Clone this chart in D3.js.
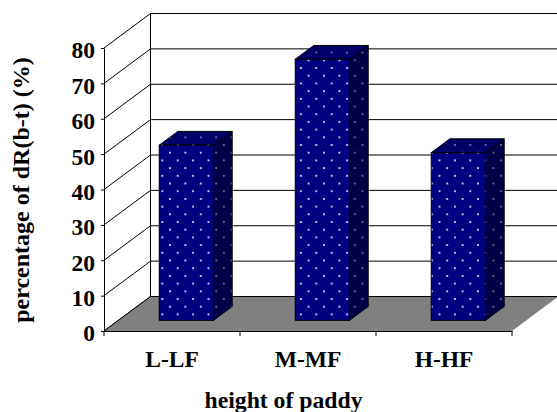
<!DOCTYPE html>
<html>
<head>
<meta charset="utf-8">
<script src="https://cdn.jsdelivr.net/npm/d3@7"></script>
<style>
html, body { margin: 0; padding: 0; background: #fff; }
text { font-family: "Liberation Serif", serif; font-weight: bold; fill: #000; }
</style>
</head>
<body>
<div id="chart"></div>
<script>
var width = 557,
	height = 412;

// Data
var categories = ["L-LF", "M-MF", "H-HF"];
var values = [49.5, 73.8, 47.4];
var yTicks = [0, 10, 20, 30, 40, 50, 60, 70, 80];

// 3D box of the plot
var depthX = 46.5,
	depthY = 34.5,
	barFront = 0.31,
	barBack = 0.71;

var svg = d3.select("#chart")
	.append("svg")
	.attr("width", width)
	.attr("height", height)
	.style("display", "block");

// Scales
var x = d3.scaleBand()
	.domain(categories)
	.range([104, 512])
	.paddingInner(0.6)
	.paddingOuter(0.3);
var y = d3.scaleLinear()
	.domain([0, 80])
	.range([331, 48]);

var x0 = x.range()[0],
	x1 = x.range()[1],
	y0 = y(0);

// Dot patterns for the bar faces, all on the same page-wide grid
var defs = svg.append("defs");
function dots(id, bg, dot) {
	var p = defs.append("pattern")
		.attr("id", id)
		.attr("patternUnits", "userSpaceOnUse")
		.attr("width", 15.4)
		.attr("height", 15.4)
		.attr("patternTransform", "translate(166.15,148.85)");
	p.append("rect").attr("width", 15.4).attr("height", 15.4).attr("fill", bg);
	p.append("circle").attr("cx", 3.85).attr("cy", 3.85).attr("r", 1.05).attr("fill", dot);
	p.append("circle").attr("cx", 11.55).attr("cy", 11.55).attr("r", 1.05).attr("fill", dot);
}
dots("front", "#000080", "#f0f0ff");
dots("side", "#000048", "#77778f");
dots("top", "#000068", "#8080a8");

// Back wall and side wall gridlines
var grid = svg.append("g").attr("class", "grid");
grid.selectAll(".back")
	.data(yTicks)
	.enter()
	.append("line")
	.attr("x1", x0 + depthX)
	.attr("x2", x1 + depthX)
	.attr("y1", function(d){ return y(d) - depthY; })
	.attr("y2", function(d){ return y(d) - depthY; })
	.attr("stroke", "#000")
	.attr("stroke-width", 1);
grid.selectAll(".wall")
	.data(yTicks)
	.enter()
	.append("line")
	.attr("x1", x0)
	.attr("x2", x0 + depthX)
	.attr("y1", function(d){ return y(d); })
	.attr("y2", function(d){ return y(d) - depthY; })
	.attr("stroke", "#000")
	.attr("stroke-width", 1);
grid.append("line")
	.attr("x1", x0 + depthX)
	.attr("x2", x0 + depthX)
	.attr("y1", y(0) - depthY)
	.attr("y2", y(80) - depthY)
	.attr("stroke", "#000")
	.attr("stroke-width", 1);

// Floor
svg.append("polygon")
	.attr("points", [
		[x0, y0],
		[x0 + depthX, y0 - depthY],
		[x1 + depthX, y0 - depthY],
		[x1, y0]
	].join(" "))
	.attr("fill", "#808080");
svg.append("polyline")
	.attr("points", [
		[x0, y0],
		[x0 + depthX, y0 - depthY],
		[x1 + depthX, y0 - depthY]
	].join(" "))
	.attr("fill", "none")
	.attr("stroke", "#000")
	.attr("stroke-width", 1);

// Bars
var dx = (barBack - barFront) * depthX,
	dy = (barBack - barFront) * depthY,
	w = x.bandwidth(),
	offX = barFront * depthX,
	offY = barFront * depthY,
	base = y0 - offY;

var bars = svg.append("g")
	.attr("class", "bars")
	.selectAll("g")
	.data(categories)
	.enter()
	.append("g");

bars.append("polygon")
	.attr("points", function(d, i){
		var l = x(d) + offX + w, t = y(values[i]) - offY;
		return [[l, t], [l + dx, t - dy], [l + dx, base - dy], [l, base]].join(" ");
	})
	.attr("fill", "url(#side)")
	.attr("stroke", "#000")
	.attr("stroke-width", 1);
bars.append("polygon")
	.attr("points", function(d, i){
		var l = x(d) + offX, t = y(values[i]) - offY;
		return [[l, t], [l + dx, t - dy], [l + w + dx, t - dy], [l + w, t]].join(" ");
	})
	.attr("fill", "url(#top)")
	.attr("stroke", "#000")
	.attr("stroke-width", 1);
bars.append("rect")
	.attr("x", function(d){ return x(d) + offX; })
	.attr("width", w)
	.attr("y", function(d, i){ return y(values[i]) - offY; })
	.attr("height", function(d, i){ return base - y(values[i]) + offY; })
	.attr("fill", "url(#front)")
	.attr("stroke", "#000")
	.attr("stroke-width", 1);

// Axes
var yAxis = svg.append("g")
	.attr("transform", "translate(" + x0 + ",0)")
	.call(d3.axisLeft(y).tickValues(yTicks).tickSize(3).tickPadding(6).tickSizeOuter(0));
yAxis.selectAll("text")
	.attr("font-size", 23.5)
	.attr("dy", "0.42em");

var xAxis = svg.append("g")
	.attr("transform", "translate(0," + y0 + ")")
	.call(d3.axisBottom(x).tickSize(0).tickPadding(19).tickSizeOuter(0));
xAxis.selectAll("text").attr("font-size", 23.5);
xAxis.select(".domain").attr("stroke", "#000");
xAxis.selectAll(".sep")
	.data(d3.range(categories.length + 1))
	.enter()
	.append("line")
	.attr("class", "sep")
	.attr("x1", function(d){ return x0 + d * x.step(); })
	.attr("x2", function(d){ return x0 + d * x.step(); })
	.attr("y1", 0)
	.attr("y2", 5)
	.attr("stroke", "#000");

// Axis titles
svg.append("text")
	.attr("x", 283.5)
	.attr("y", 408)
	.attr("text-anchor", "middle")
	.attr("font-size", 23.7)
	.text("height of paddy");
svg.append("text")
	.attr("transform", "translate(29,190) rotate(-90)")
	.attr("text-anchor", "middle")
	.attr("font-size", 24)
	.text("percentage of dR(b-t) (%)");
</script>
</body>
</html>
